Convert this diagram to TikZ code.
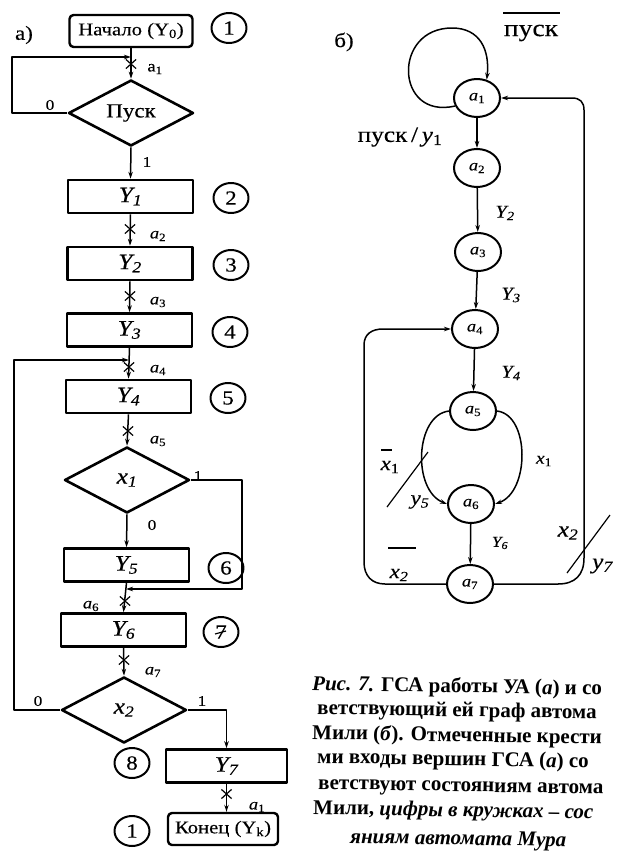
\documentclass[tikz,border=0pt]{standalone}
\usepackage{fontspec}
\setmainfont{Liberation Serif}[FakeStretch=1.15,FakeBold=0.3]
\newfontfamily\capfont{Liberation Serif}
\usetikzlibrary{arrows.meta,shapes.geometric,shapes.misc}
\newcommand\fsz[1]{\fontsize{#1}{#1}\selectfont}
\begin{document}
\begin{tikzpicture}[x=1pt,y=-1pt,line join=round,
  conn/.style={line width=1.5pt},
  arr/.style={conn,-{Stealth[length=7pt,width=4.5pt]}},
  opbox/.style={draw,line width=2.6pt,minimum width=125pt,minimum height=33pt,inner sep=0pt,font=\fsz{22}\itshape},
  termbox/.style={draw,line width=2.4pt,rounded corners=4pt,minimum height=32pt,inner xsep=5pt,inner ysep=0pt,font=\fsz{18}},
  cond/.style={draw,diamond,aspect=2,line width=2.6pt,minimum width=125pt,minimum height=66pt,inner sep=0pt},
  num/.style={draw,ellipse,line width=2pt,minimum width=35pt,minimum height=30pt,inner sep=0pt,font=\fsz{20}},
  xmark/.style={draw,cross out,line width=1.2pt,minimum width=9pt,minimum height=8pt,inner sep=0pt},
  alab/.style={font=\fsz{16}\itshape,inner sep=0pt},
  blab/.style={font=\fsz{15},inner sep=0pt},
  st/.style={draw,ellipse,line width=2pt,minimum width=46pt,minimum height=38pt,inner sep=0pt,font=\fsz{16}\itshape},
  captxt/.style={font=\capfont\bfseries\fsz{21},inner sep=0pt,anchor=base west,rotate=-1},
]
\useasboundingbox (0,0) rectangle (617,854);
% ---------------- left: flowchart ----------------
\node[font=\fsz{20}] (la) at (24,35) {а)};
\node[termbox,minimum width=123pt] (start) at (131,31) {Начало (Y\textsubscript{0})};
\node[num] (n1a) at (229,28) {1};
\node[cond,font=\fsz{20}] (d1) at (131,113) {Пуск};
\node[opbox] (y1) at (130.5,196.5) {Y\textsubscript{1}};
\node[num] (n2) at (231,198) {2};
\node[opbox] (y2) at (130,263.5) {Y\textsubscript{2}};
\node[num] (n3) at (231,265) {3};
\node[opbox] (y3) at (129.5,330) {Y\textsubscript{3}};
\node[num] (n4) at (230,332) {4};
\node[opbox] (y4) at (128.5,396.5) {Y\textsubscript{4}};
\node[num] (n5) at (228,398) {5};
\node[cond,font=\fsz{22}\itshape] (d2) at (127,480) {x\textsubscript{1}};
\node[opbox] (y5) at (126.5,565) {Y\textsubscript{5}};
\node[num] (n6) at (226,568) {6};
\node[opbox] (y6) at (123.5,630) {Y\textsubscript{6}};
\node[num] (n7) at (221,632) {7};
\node[cond,font=\fsz{22}\itshape] (d3) at (124,710) {x\textsubscript{2}};
\node[num] (n8) at (132,763) {8};
\node[opbox,minimum width=121pt] (y7) at (226.5,766) {Y\textsubscript{7}};
\node[termbox,minimum width=110pt] (fin) at (223,829) {Конец (Y\textsubscript{k})};
\node[num] (n1b) at (132,831) {1};
\draw[line width=1.2pt] (215,634) -- (226,631);

\coordinate (j1) at (131,57);
\coordinate (j4) at (129,360);
\coordinate (j6) at (126,589);

\draw[arr] (start.south) -- (d1.north);
\draw[arr] (d1.west) -| (12,57) -- (j1);
\node[xmark] (c1) at (131,64) {};
\node[font=\fsz{16},inner sep=0pt] (l1) at (155,69) {a\textsubscript{1}};
\node[blab] (z1) at (50,105) {0};
\node[blab] (o1) at (147,162) {1};

\draw[arr] (d1.south) -- (y1.north);
\draw[arr] (y1.south) -- (y2.north);
\node[xmark] (c2) at (130,229) {};
\node[alab] (l2) at (158,236) {a\textsubscript{\upshape 2}};
\draw[arr] (y2.south) -- (y3.north);
\node[xmark] (c3) at (130,296) {};
\node[alab] (l3) at (158,302) {a\textsubscript{\upshape 3}};
\draw[arr] (y3.south) -- (y4.north);
\node[xmark] (c4) at (129,367) {};
\node[alab] (l4) at (158,370) {a\textsubscript{\upshape 4}};
\draw[arr] (y4.south) -- (d2.north);
\node[xmark] (c5) at (128,431) {};
\node[alab] (l5) at (158,441) {a\textsubscript{\upshape 5}};
\draw[arr] (d2.south) -- (y5.north);
\node[blab] (z2) at (152,525) {0};
\draw[arr] (d2.east) -| (242,589) -- (j6);
\node[blab] (o2) at (198,476) {1};
\draw[arr] (y5.south) -- (y6.north);
\node[xmark] (c6) at (125,601) {};
\node[alab] (l6) at (91,606) {a\textsubscript{\upshape 6}};
\draw[arr] (y6.south) -- (d3.north);
\node[xmark] (c7) at (124,660) {};
\node[alab] (l7) at (153,672) {a\textsubscript{\upshape 7}};
\draw[arr] (d3.west) -| (14,360) -- (j4);
\node[blab] (z3) at (38,701) {0};
\draw[arr] (d3.east) -| (y7.north);
\node[blab] (o3) at (202,701) {1};
\draw[arr] (y7.south) -- (y7.south |- fin.north);
\node[xmark] (c8) at (226.5,794) {};
\node[alab] (l8) at (257,807) {a\textsubscript{\upshape 1}};

% ---------------- right: Mealy graph ----------------
\node[font=\fsz{20}] (lb) at (344,42) {б)};
\node[font=\fsz{24}] (pusk) at (531,33) {пуск};
\draw[conn] (503,13) -- (560,13);
\node[st] (s1) at (477,98) {a\textsubscript{\upshape 1}};
\node[st] (s2) at (477,168) {a\textsubscript{\upshape 2}};
\node[st] (s3) at (478,252) {a\textsubscript{\upshape 3}};
\node[st] (s4) at (475,329) {a\textsubscript{\upshape 4}};
\node[st] (s5) at (473,411) {a\textsubscript{\upshape 5}};
\node[st] (s6) at (471,504) {a\textsubscript{\upshape 6}};
\node[st] (s7) at (470,584) {a\textsubscript{\upshape 7}};

\draw[arr] (s1.200) .. controls (395,120) and (392,28) .. (452,28) .. controls (480,28) and (490,50) .. (s1.62);
\draw[arr] (s1) -- (s2);
\draw[arr] (s2) -- (s3);
\draw[arr] (s3) -- (s4);
\draw[arr] (s4) -- (s5);
\draw[arr] (s6) -- (s7);
\draw[arr] (s5.west) .. controls (415,415) and (412,490) .. (s6.west);
\draw[arr] (s5.east) .. controls (530,415) and (530,492) .. (s6.east);
\draw[arr] (s7.east) -- (558,584) .. controls (575,584) and (584,575) .. (584,558) -- (584,110) .. controls (584,102) and (580,98) .. (572,98) -- (s1.east);
\draw[arr] (s7.west) -- (385,584) .. controls (372,584) and (364,576) .. (364,562) -- (364,345) .. controls (364,334) and (372,329) .. (383,329) -- (s4.west);

\node[font=\fsz{22}] (t1) at (400,137) {пуск\,/\,\textit{y}\textsubscript{1}};
\node[font=\fsz{18}\itshape] (t2) at (505,213) {Y\textsubscript{2}};
\node[font=\fsz{18}\itshape] (t3) at (511,295) {Y\textsubscript{3}};
\node[font=\fsz{18}\itshape] (t4) at (511,373) {Y\textsubscript{4}};
\node[font=\fsz{17}\itshape] (t5) at (544,461) {x\textsubscript{\upshape 1}};
\node[font=\fsz{20}\itshape] (t6) at (390,467) {x\textsubscript{\upshape 1}};
\draw[line width=1.1pt] (381,450) -- (392,450);
\draw[line width=1.2pt] (387,507) -- (428,452);
\node[font=\fsz{20}\itshape] (t7) at (420,502) {y\textsubscript{5}};
\node[font=\fsz{15}\itshape] (t8) at (500,543) {Y\textsubscript{6}};
\node[font=\fsz{20}\itshape] (t9) at (399,575) {x\textsubscript{2}};
\draw[line width=1.2pt] (388,548) -- (416,548);
\node[font=\fsz{22}\itshape] (t10) at (568,533) {x\textsubscript{2}};
\draw[line width=1.2pt] (567,573) -- (610,515);
\node[font=\fsz{22}\itshape,anchor=west,inner sep=0pt] (t11) at (592,566) {y\textsubscript{7}};

% ---------------- caption ----------------
\begin{scope}
\clip (0,0) rectangle (617,854);
\node[captxt] (k1) at (312,690) {\itshape Рис. 7. \upshape ГСА работы УА (\textit{а}) и со};
\node[captxt] (k2) at (317,714) {ветствующий ей граф автома};
\node[captxt] (k3) at (312,739) {Мили (\textit{б}). Отмеченные крести};
\node[captxt] (k4) at (317,763) {ми входы вершин ГСА (\textit{а}) со};
\node[captxt] (k5) at (318,789) {ветствуют состояниям автома};
\node[captxt] (k6) at (313,814) {Мили, \textit{цифры в кружках – сос}};
\node[captxt] (k7) at (350,843) {\itshape яниям автомата Мура};
\end{scope}
\end{tikzpicture}
\end{document}
